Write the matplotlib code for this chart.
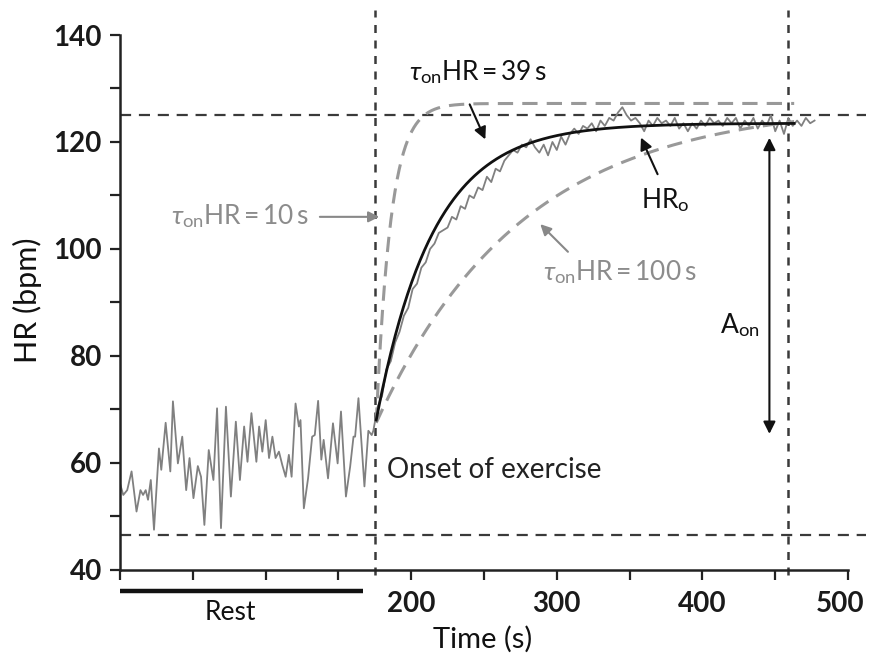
import numpy as np
import matplotlib
matplotlib.use('Agg')
from matplotlib import pyplot as plt
from matplotlib import transforms

plt.rcParams['font.family'] = ['Lato', 'DejaVu Sans']
plt.rcParams['mathtext.fontset'] = 'custom'
plt.rcParams['mathtext.rm'] = 'Lato'
plt.rcParams['mathtext.it'] = 'Lato:italic'
plt.rcParams['mathtext.bf'] = 'Lato:bold'

# resting heart rate before exercise (s, bpm)
rest_time = [0.0, 2.3, 5.0, 8.0, 11.4, 14.1, 15.9, 17.7, 19.3, 21.2,
             23.4, 26.8, 28.4, 31.4, 34.6, 36.4, 39.8, 42.8, 45.5, 47.8,
             50.5, 53.5, 55.7, 58.0, 61.0, 64.2, 66.7, 69.4, 72.8, 76.2,
             79.6, 82.4, 85.3, 87.6, 90.3, 93.7, 95.6, 97.8, 100.1, 102.4,
             104.7, 106.9, 109.2, 111.5, 113.8, 116.0, 117.9, 120.6, 122.9, 124.0,
             126.3, 129.2, 132.0, 133.8, 136.1, 138.3, 139.9, 142.9, 146.3, 149.5,
             151.8, 155.2, 158.1, 160.4, 161.5, 163.8, 167.9, 170.6, 172.9]
rest_hr = [56.2, 54.0, 54.9, 58.4, 50.9, 54.9, 54.0, 54.9, 53.1, 56.8,
           47.5, 62.7, 58.7, 67.5, 58.4, 71.5, 59.9, 64.9, 54.9, 60.9,
           53.4, 59.4, 57.4, 48.4, 62.4, 56.8, 70.2, 47.8, 70.5, 53.7,
           67.7, 56.8, 66.8, 60.2, 69.3, 60.2, 66.8, 62.1, 68.0, 60.9,
           64.9, 60.9, 62.1, 59.6, 57.4, 61.5, 57.4, 71.1, 66.8, 68.0,
           51.5, 57.1, 64.9, 65.2, 71.6, 60.6, 64.3, 57.1, 67.4, 59.9,
           69.6, 53.7, 59.3, 64.9, 64.9, 72.1, 55.6, 66.0, 65.2]

# heart rate after the onset of exercise, one sample every 3 s
ex_time = np.arange(174, 478, 3)
ex_hr = [66.0, 70.5, 72.5, 77.5, 79.0, 82.5, 84.5, 87.5, 89.0, 92.5,
         93.5, 96.5, 97.5, 100.0, 101.0, 103.0, 103.5, 104.0, 106.0, 105.5,
         108.0, 107.5, 110.0, 109.5, 111.5, 111.0, 113.5, 112.5, 115.0, 114.5,
         116.5, 117.5, 118.5, 118.0, 119.5, 119.0, 120.5, 119.0, 118.0, 119.5,
         117.5, 120.0, 118.5, 121.0, 119.5, 121.5, 122.5, 121.5, 123.0, 122.5,
         123.5, 122.0, 124.0, 123.0, 124.5, 124.0, 125.5, 126.5, 125.0, 124.0,
         124.5, 123.5, 122.0, 124.0, 123.0, 124.5, 123.5, 124.0, 123.0, 124.5,
         122.5, 123.5, 122.0, 123.5, 122.5, 124.0, 123.0, 124.5, 123.5, 124.0,
         123.0, 124.5, 123.5, 124.5, 122.5, 124.0, 123.0, 124.5, 122.5, 124.0,
         123.0, 125.0, 122.0, 124.0, 121.5, 124.5, 123.0, 124.0, 123.0, 124.5,
         123.5, 124.0]

# mono-exponential on-kinetics
t_onset = 175.5      # onset of exercise
t_end = 459          # end of the fitted window
fit_start = 176
fit_hr0, fit_hrss, fit_tau = 68.0, 123.5, 39
alt_hr0, alt_hrss = 67.5, 127.2
alt_taus = [10, 100]
hr_steady_line = 125
hr_base_line = 46.5


def on_kinetics(t, hr0, hrss, tau):
    return hr0 + (hrss - hr0) * (1 - np.exp(-(t - fit_start) / tau))


def tau_label(value):
    return r'$\tau_{\mathrm{on}}$HR$\,$=$\,$%d$\,$s' % value


fig = plt.figure(figsize=(8.69, 6.58), dpi=100)
ax = fig.add_axes([0.138, 0.134, 0.858, 0.851])
ax.set_xlim(0, 512)
ax.set_ylim(40, 144.7)

dark = '#3a3a3a'
grey = '#999999'

# reference lines
ax.axhline(hr_steady_line, color=dark, lw=1.6, dashes=(5, 3.5), zorder=1)
ax.axhline(hr_base_line, color=dark, lw=1.6, dashes=(5, 3.5), zorder=1)
for xv in (t_onset, t_end):
    ax.axvline(xv, ymin=-0.01, color=dark, lw=1.8, dashes=(3.2, 3), zorder=1,
               clip_on=False)

# recorded heart rate
ax.plot(rest_time + list(ex_time), rest_hr + ex_hr, color='#808080', lw=1.3,
        solid_joinstyle='round', zorder=2)

# model curves
tt = np.linspace(fit_start, t_end + 4, 400)
for tau in alt_taus:
    ax.plot(tt, on_kinetics(tt, alt_hr0, alt_hrss, tau), color=grey, lw=2.2,
            dashes=(5, 3), zorder=3)
ax.plot(tt, on_kinetics(tt, fit_hr0, fit_hrss, fit_tau), color='#111111',
        lw=2.0, zorder=4)

# annotations
fs = 19
arrow_k = dict(arrowstyle='-|>', color='#111111', lw=1.5, mutation_scale=18)
arrow_g = dict(arrowstyle='-|>', color='#888888', lw=1.5, mutation_scale=16)
ax.text(246, 133.0, tau_label(fit_tau), ha='center', va='center', fontsize=fs,
        color='#111111')
ax.annotate('', xy=(251.7, 120.0), xytext=(239.4, 127.5), arrowprops=arrow_k)
ax.text(82.8, 106.2, tau_label(alt_taus[0]), ha='center', va='center',
        fontsize=fs, color='#8c8c8c')
ax.annotate('', xy=(180, 106), xytext=(135.4, 106), arrowprops=arrow_g)
ax.text(343.4, 95.7, tau_label(alt_taus[1]), ha='center', va='center',
        fontsize=fs, color='#8c8c8c')
ax.annotate('', xy=(287.3, 105.0), xytext=(309, 99.1), arrowprops=arrow_g)
ax.text(374.8, 109.2, r'HR$_{\mathrm{o}}$', ha='center', va='center',
        fontsize=fs, color='#111111')
ax.annotate('', xy=(357, 121.3), xytext=(370, 113.5), arrowprops=arrow_k)
ax.annotate('', xy=(446, 121.3), xytext=(446, 64.9),
            arrowprops=dict(arrowstyle='<|-|>', color='#111111', lw=1.5,
                            mutation_scale=18))
ax.text(425.4, 85.8, r'A$_{\mathrm{on}}$', ha='center', va='center',
        fontsize=fs, color='#111111')
ax.text(183.3, 58.7, 'Onset of exercise', ha='left', va='center',
        fontsize=20, color='#222222')

# rest period bar under the axis
ax.plot([0, 167], [36.1, 36.1], color='#111111', lw=3.2, clip_on=False,
        solid_capstyle='butt')
ax.text(76, 32.0, 'Rest', ha='center', va='center', fontsize=19,
        color='#111111')

# axes styling
for side in ('top', 'right'):
    ax.spines[side].set_visible(False)
ax.spines['left'].set_bounds(40, 140)
ax.spines['bottom'].set_bounds(0, 500)
for side in ('left', 'bottom'):
    ax.spines[side].set_linewidth(1.8)
    ax.spines[side].set_color('#222222')

ax.set_yticks(np.arange(40, 141, 20))
ax.set_yticks(np.arange(50, 141, 20), minor=True)
ax.set_xticks(np.arange(0, 501, 100))
ax.set_xticks(np.arange(50, 501, 100), minor=True)
ax.set_xticklabels(['', '', '200', '300', '400', '500'])
ax.tick_params(which='both', direction='out', length=7, width=1.6,
               color='#222222')
ax.tick_params(axis='y', labelsize=20, pad=6)
ax.tick_params(axis='x', labelsize=20, pad=8)
for lab in ax.get_xticklabels() + ax.get_yticklabels():
    lab.set_fontweight('bold')
    lab.set_color('#1a1a1a')

# keep the last x label inside the figure edge
last = ax.get_xticklabels()[-1]
last.set_transform(last.get_transform() +
                   transforms.ScaledTranslation(-6 / 72, 0, fig.dpi_scale_trans))

ax.set_xlabel('Time (s)', fontsize=21, color='#111111')
ax.xaxis.set_label_coords(0.487, -0.100)
ax.set_ylabel('HR (bpm)', fontsize=22, color='#111111')
ax.yaxis.set_label_coords(-0.105, 0.482)

fig.savefig('out.png', dpi=100)
